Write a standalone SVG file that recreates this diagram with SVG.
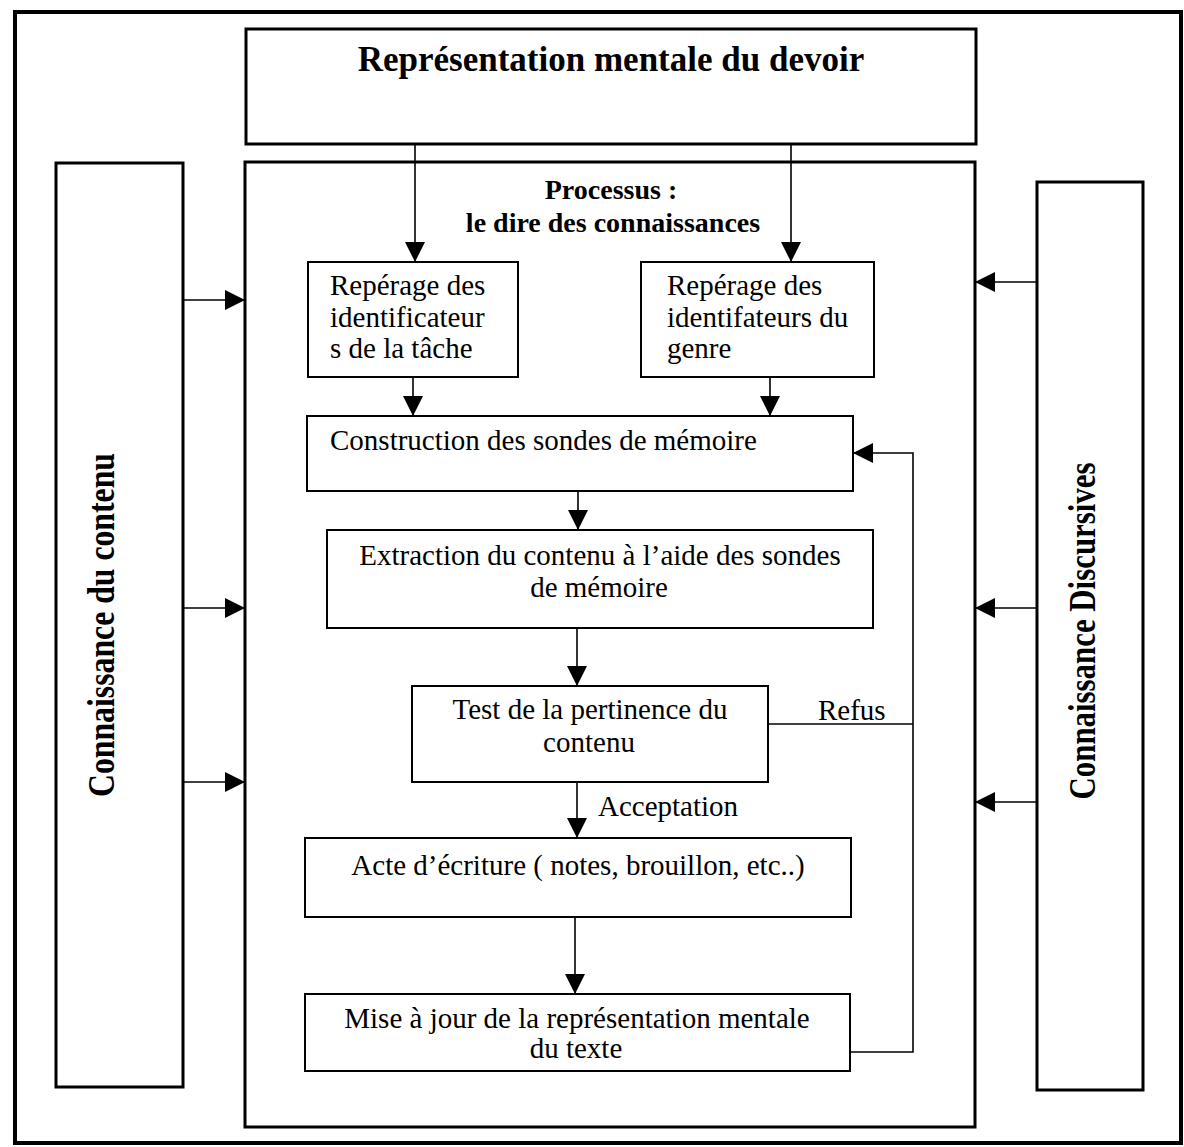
<svg xmlns="http://www.w3.org/2000/svg" width="1184" height="1147" viewBox="0 0 1184 1147">
<style>
.frame{fill:none;stroke:#000;stroke-width:4}
.big{fill:#fff;stroke:#000;stroke-width:3}
.node{fill:#fff;stroke:#000;stroke-width:2}
.conn{fill:none;stroke:#000;stroke-width:1.6}
.t{font-family:"Liberation Serif","Times New Roman",serif;font-size:29px;fill:#000}
.b{font-family:"Liberation Serif","Times New Roman",serif;font-weight:bold;fill:#000}
.m{text-anchor:middle}
</style>
<defs>
<marker id="ah" markerUnits="userSpaceOnUse" markerWidth="20" markerHeight="20" refX="20" refY="10" orient="auto" viewBox="0 0 20 20">
<path d="M0,0 L20,10 L0,20 z" fill="#000"/>
</marker>
</defs>
<rect width="1184" height="1147" fill="#fff"/>
<rect id="border" class="frame" x="15" y="12" width="1166" height="1131"/>

<g id="title">
<rect class="big" x="246" y="29" width="730" height="115"/>
<text class="b m" x="611" y="71" font-size="35">Représentation mentale du devoir</text>
</g>

<g id="processus">
<rect class="big" x="245" y="162" width="730" height="965"/>
<text class="b m" x="611" y="199" font-size="28">Processus :</text>
<text class="b m" x="613" y="232" font-size="28">le dire des connaissances</text>
</g>

<g id="contenu">
<rect class="big" x="56" y="163" width="127" height="924"/>
<text class="b m" transform="translate(114,625) rotate(-90)" x="0" y="0" font-size="38" textLength="344" lengthAdjust="spacingAndGlyphs">Connaissance du contenu</text>
</g>

<g id="discursives">
<rect class="big" x="1037" y="182" width="106" height="908"/>
<text class="b m" transform="translate(1095,631) rotate(-90)" x="0" y="0" font-size="38" textLength="337" lengthAdjust="spacingAndGlyphs">Connaissance Discursives</text>
</g>

<g id="reperage-tache">
<rect class="node" x="308" y="262" width="210" height="115"/>
<text class="t" x="330" y="295">Repérage des</text>
<text class="t" x="330" y="327">identificateur</text>
<text class="t" x="330" y="358">s de la tâche</text>
</g>

<g id="reperage-genre">
<rect class="node" x="641" y="262" width="233" height="115"/>
<text class="t" x="667" y="295">Repérage des</text>
<text class="t" x="667" y="327">identifateurs du</text>
<text class="t" x="667" y="358">genre</text>
</g>

<g id="construction">
<rect class="node" x="307" y="416" width="546" height="75"/>
<text class="t" x="330" y="450">Construction des sondes de mémoire</text>
</g>

<g id="extraction">
<rect class="node" x="327" y="530" width="546" height="98"/>
<text class="t m" x="600" y="565">Extraction du contenu à l’aide des sondes</text>
<text class="t m" x="599" y="597">de mémoire</text>
</g>

<g id="test">
<rect class="node" x="412" y="686" width="356" height="96"/>
<text class="t m" x="590" y="719">Test de la pertinence du</text>
<text class="t m" x="589" y="752">contenu</text>
</g>

<g id="acte">
<rect class="node" x="305" y="838" width="546" height="79"/>
<text class="t m" x="578" y="875">Acte d’écriture ( notes, brouillon, etc..)</text>
</g>

<g id="miseajour">
<rect class="node" x="305" y="994" width="545" height="77"/>
<text class="t m" x="577" y="1028">Mise à jour de la représentation mentale</text>
<text class="t m" x="576" y="1058">du texte</text>
</g>

<g id="connectors">
<line class="conn" x1="415" y1="144" x2="415" y2="262" marker-end="url(#ah)"/>
<line class="conn" x1="791" y1="144" x2="791" y2="262" marker-end="url(#ah)"/>
<line class="conn" x1="413" y1="377" x2="413" y2="416" marker-end="url(#ah)"/>
<line class="conn" x1="770" y1="377" x2="770" y2="416" marker-end="url(#ah)"/>
<line class="conn" x1="578" y1="491" x2="578" y2="530" marker-end="url(#ah)"/>
<line class="conn" x1="577" y1="628" x2="577" y2="686" marker-end="url(#ah)"/>
<line class="conn" x1="577" y1="782" x2="577" y2="838" marker-end="url(#ah)"/>
<line class="conn" x1="575" y1="917" x2="575" y2="994" marker-end="url(#ah)"/>
<path class="conn" d="M768,724 H913"/>
<path class="conn" d="M850,1052 H913 V453 H853" marker-end="url(#ah)"/>
<text class="t" x="818" y="720">Refus</text>
<text class="t" x="598" y="816">Acceptation</text>
<line class="conn" x1="183" y1="300" x2="245" y2="300" marker-end="url(#ah)"/>
<line class="conn" x1="183" y1="608" x2="245" y2="608" marker-end="url(#ah)"/>
<line class="conn" x1="183" y1="782" x2="245" y2="782" marker-end="url(#ah)"/>
<line class="conn" x1="1037" y1="282" x2="975" y2="282" marker-end="url(#ah)"/>
<line class="conn" x1="1037" y1="608" x2="975" y2="608" marker-end="url(#ah)"/>
<line class="conn" x1="1037" y1="802" x2="975" y2="802" marker-end="url(#ah)"/>
</g>
</svg>
